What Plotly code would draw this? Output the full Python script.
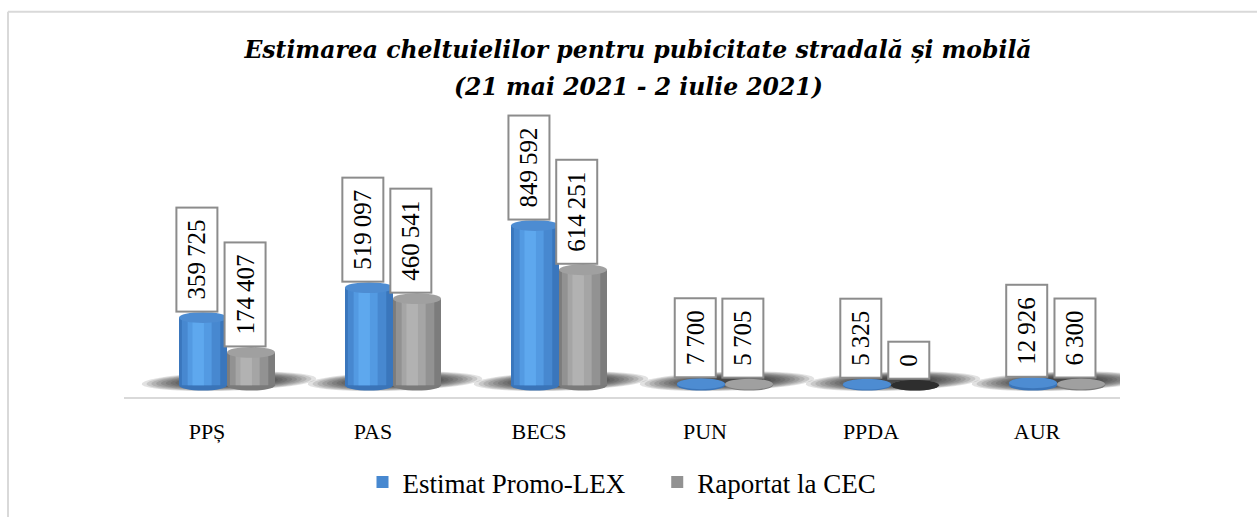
import math
import plotly.graph_objects as go

# ---------------- data ----------------
CATEGORIES = ["PPȘ", "PAS", "BECS", "PUN", "PPDA", "AUR"]
ESTIMAT = [359725, 519097, 849592, 7700, 5325, 12926]
RAPORTAT = [174407, 460541, 614251, 5705, 0, 6300]
SERIES_NAMES = ["Estimat Promo-LEX", "Raportat la CEC"]
TITLE_LINES = ["Estimarea cheltuielilor pentru pubicitate stradală și mobilă",
               "(21 mai 2021 - 2 iulie 2021)"]

# ---------------- layout geometry (pixels) ----------------
W, H = 1257, 519
PLOT_L, PLOT_R = 124, 1120
PLOT_T, PLOT_B = 110, 402
BASE_PX = 390
PX_PER_UNIT = 0.0001912

y_lo = -(PLOT_B - BASE_PX) / PX_PER_UNIT
y_hi = (BASE_PX - PLOT_T) / PX_PER_UNIT
n = len(CATEGORIES)
cat_px = (PLOT_R - PLOT_L) / n
BAR_W = 48 / cat_px
SHIFT = 20 / cat_px
ELL_H = 11 / PX_PER_UNIT

FONT = "Liberation Serif"
TITLE_FONT = dict(family="DejaVu Serif", size=23.5, color="#000000", weight="bold", style="italic")
xs = list(range(n))


def fmt(v):
    return f"{v:,}".replace(",", "\u2009")


def px2paper_x(px):
    return (px - PLOT_L) / (PLOT_R - PLOT_L)


def px2paper_y(py):
    return (PLOT_B - py) / (PLOT_B - PLOT_T)


series = [
    dict(name=SERIES_NAMES[0], values=ESTIMAT, off=SHIFT - BAR_W,
         layers=["#3a76bc", "#4788d0", "#539ae2", "#5ea8ee"],
         top="#4d8cd2", bottom="#3a74b8", zero="#2f5f96"),
    dict(name=SERIES_NAMES[1], values=RAPORTAT, off=SHIFT,
         layers=["#7c7c7c", "#929292", "#a5a5a5", "#b2b2b2"],
         top="#a0a0a0", bottom="#7a7a7a", zero="#2e2e2e"),
]
layer_geo = [(0.0, 1.0), (0.06, 0.80), (0.18, 0.50), (0.28, 0.24)]

fig = go.Figure()
for si, s in enumerate(series):
    for li, ((lo, wf), col) in enumerate(zip(layer_geo, s["layers"])):
        fig.add_trace(go.Bar(
            x=xs, y=s["values"], base=0,
            offset=s["off"] + lo * BAR_W, width=wf * BAR_W,
            marker=dict(color=col, line=dict(width=0)),
            name=s["name"] + ("\u00a0\u00a0\u00a0\u00a0" if si == 0 else ""),
            showlegend=(li == 1), legendrank=si + 1,
            hoverinfo="skip" if li != 0 else None,
        ))

shapes = []
# group shadows: stacked faint sheared ellipses (fake blur)
for i in xs:
    gc = i + SHIFT
    for k in range(12):
        sc = 1.0 - 0.055 * k
        a, b = 84 * sc, 10 * sc
        cx, cy = 2, 4
        pts = []
        for j in range(36):
            t = 2 * math.pi * j / 36
            dy = b * math.sin(t)
            dx = a * math.cos(t) + 2.4 * dy
            pts.append((cx + dx, cy + dy))
        path = "M " + " L ".join(f"{gc + dx / cat_px:.5f},{dy / PX_PER_UNIT:.2f}" for dx, dy in pts) + " Z"
        shapes.append(dict(type="path", path=path, xref="x", yref="y",
                           fillcolor="rgba(30,30,30,0.13)", line=dict(width=0), layer="below"))

# cylinder caps
for s in series:
    for i, v in zip(xs, s["values"]):
        x0 = i + s["off"]
        x1 = x0 + BAR_W
        shapes.append(dict(type="circle", xref="x", yref="y", x0=x0, x1=x1,
                           y0=-ELL_H / 2, y1=ELL_H / 2, fillcolor=s["bottom"],
                           line=dict(width=0), layer="below"))
        shapes.append(dict(type="circle", xref="x", yref="y", x0=x0, x1=x1,
                           y0=v - ELL_H / 2, y1=v + ELL_H / 2,
                           fillcolor=s["zero"] if v == 0 else s["top"],
                           line=dict(width=0), layer="above"))

# outer frame lines
shapes.append(dict(type="line", xref="paper", yref="paper",
                   x0=px2paper_x(8), x1=px2paper_x(W + 5), y0=px2paper_y(10), y1=px2paper_y(10),
                   line=dict(color="#d9d9d9", width=2)))
shapes.append(dict(type="line", xref="paper", yref="paper",
                   x0=px2paper_x(8), x1=px2paper_x(8), y0=px2paper_y(10), y1=px2paper_y(H + 5),
                   line=dict(color="#d9d9d9", width=2)))

annotations = []
for s in series:
    for i, v in zip(xs, s["values"]):
        annotations.append(dict(
            x=i + s["off"] + BAR_W / 2, y=v, xref="x", yref="y",
            text="\u2009" + fmt(v) + "\u2009", textangle=-90, showarrow=False,
            xanchor="center", yanchor="bottom", yshift=5, xshift=-6,
            font=dict(family=FONT, size=25, color="#000000"),
            bgcolor="#ffffff", bordercolor="#8c8c8c", borderwidth=2, borderpad=6,
        ))

# second title line
annotations.append(dict(
    xref="paper", yref="paper", x=px2paper_x(638), y=px2paper_y(87),
    xanchor="center", yanchor="middle", showarrow=False,
    text=TITLE_LINES[1], font=TITLE_FONT,
))

fig.update_layout(
    width=W, height=H,
    margin=dict(l=PLOT_L, r=W - PLOT_R, t=PLOT_T, b=H - PLOT_B, pad=0),
    paper_bgcolor="#ffffff", plot_bgcolor="#ffffff",
    barmode="overlay",
    title=dict(text=TITLE_LINES[0], x=638 / W,
               xanchor="center", y=1 - 50 / H, yanchor="middle",
               font=TITLE_FONT),
    xaxis=dict(range=[-0.5, n - 0.5], tickmode="array", tickvals=xs, ticktext=CATEGORIES,
               showgrid=False, zeroline=False, showline=True, linecolor="#d9d9d9", linewidth=2,
               ticks="", ticklabelstandoff=14,
               tickfont=dict(family=FONT, size=22, color="#000000"), fixedrange=True),
    yaxis=dict(range=[y_lo, y_hi], visible=False, fixedrange=True),
    legend=dict(orientation="h", x=0.5, xanchor="center", y=px2paper_y(489), yanchor="middle",
                font=dict(family=FONT, size=27, color="#000000"), traceorder="normal",
                itemsizing="constant"),
    shapes=shapes, annotations=annotations,
    showlegend=True,
)

fig.write_html("out.html", config={"displayModeBar": False},
               post_script="document.body.style.margin='0';document.body.style.overflow='hidden';")
